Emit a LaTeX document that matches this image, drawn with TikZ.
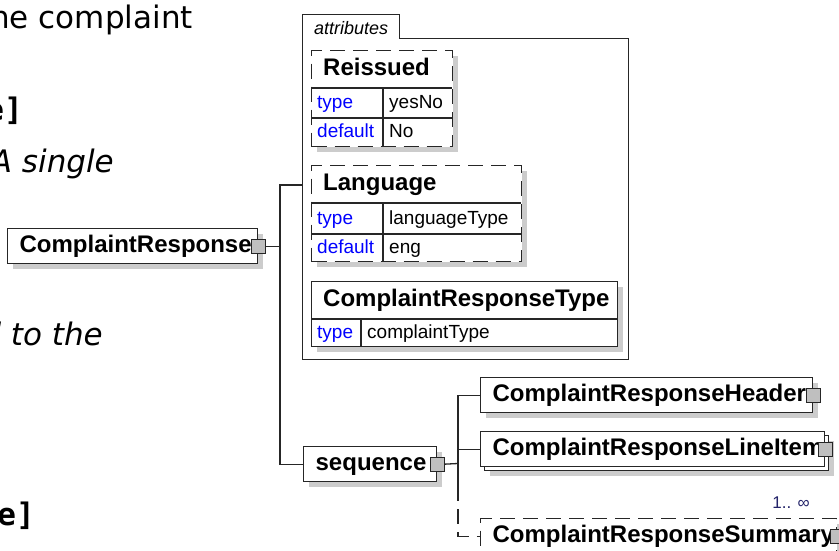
\documentclass[tikz,border=0pt]{standalone}
\usepackage{fontspec}
\setmainfont{Liberation Sans}
\newfontfamily\notefont{DejaVu Sans}
\newfontfamily\notemono{DejaVu Sans Mono}
\usetikzlibrary{shadows}

\definecolor{keyblue}{RGB}{0,0,255}
\definecolor{occurs}{RGB}{35,35,105}
\hyphenpenalty=10000
\exhyphenpenalty=10000

\tikzset{
    elembox/.style={draw=black!85, fill=white, line width=1.3pt, anchor=north west,
        inner xsep=12pt, inner ysep=0pt, minimum height=35pt, text height=17.5pt, text depth=5pt,
        align=left, font=\bfseries\fontsize{24}{28}\selectfont},
    grayshadow/.style={drop shadow={shadow xshift=5pt, shadow yshift=-5pt, fill=black!20, opacity=1}},
    optdash/.style={dash pattern=on 15pt off 8pt},
    plug/.style={draw=black!85, fill=black!25, line width=1.2pt, minimum size=14pt, inner sep=0pt},
    attrbox/.style={draw=black!85, fill=white, line width=1.3pt, anchor=north west, inner sep=0pt, grayshadow},
    attrname/.style={anchor=north west, inner xsep=12pt, inner ysep=0pt, minimum height=38pt,
        text height=17.5pt, text depth=5pt, align=left, font=\bfseries\fontsize{24}{28}\selectfont},
    cellkey/.style={anchor=north west, inner xsep=6pt, inner ysep=0pt, text height=14pt, text depth=3pt,
        align=left, text=keyblue, font=\fontsize{19}{22}\selectfont},
    cellval/.style={cellkey, text=black},
    divider/.style={line width=1.3pt, draw=black!85},
    conn/.style={line width=1.3pt, draw=black!85},
    bgnote/.style={inner sep=0pt, anchor=base east, font=\notefont\fontsize{31}{36}\selectfont},
}

\begin{document}
\begin{tikzpicture}[x=1pt, y=-1pt]
    \fill[white, use as bounding box] (0,0) rectangle (839,550);

    % page text behind the diagram
    \node[bgnote] (notecomplaint) at (193,28) {ne complaint};
    \node[bgnote, font=\notemono\bfseries\fontsize{31}{36}\selectfont] (notebrackettop) at (23,120) {e]};
    \node[bgnote, font=\notefont\itshape\fontsize{31}{36}\selectfont] (notesingle) at (114,172) {A single};
    \node[bgnote, font=\notefont\itshape\fontsize{31}{36}\selectfont] (notetothe) at (103,345) {d to the};
    \node[bgnote, font=\notemono\bfseries\fontsize{31}{36}\selectfont] (notebracketbottom) at (35,525) {e]};

    % root element
    \node[elembox, grayshadow, text width=226pt] (resp) at (7,228) {ComplaintResponse};
    \node[plug] (respplug) at (resp.east) {};

    % attributes group
    \node[anchor=north west, minimum width=326pt, minimum height=321pt, inner sep=0pt] (attrs) at (302,38) {};
    \coordinate (tabcorner) at (399,14);
    \draw[conn, line width=1pt] (attrs.south west) |- (tabcorner) |- (attrs.north east) -- (attrs.south east) -- cycle;
    \node[anchor=base west, inner sep=0pt, font=\itshape\fontsize{18}{22}\selectfont] (attrlabel) at (314,34) {attributes};

    \node[attrbox, optdash, minimum width=141pt, minimum height=96pt] (reissued) at (311,50) {};
    \node[attrname, text width=117pt] (reissuedname) at (311,50) {Reissued};
    \node[cellkey, text width=60pt, minimum height=30pt] (reissuedtype) at (311,88) {type};
    \node[cellval, text width=57pt, minimum height=30pt] (reissuedtypeval) at (383,88) {yesNo};
    \node[cellkey, text width=60pt, minimum height=28pt] (reissueddefault) at (311,118) {default};
    \node[cellval, text width=57pt, minimum height=28pt] (reissueddefaultval) at (383,118) {No};
    \draw[divider] (reissuedtype.north west) -- (reissuedtypeval.north east);
    \draw[divider] (reissueddefault.north west) -- (reissueddefaultval.north east);
    \draw[divider] (reissuedtypeval.north west) -- (reissueddefaultval.south west);

    \node[attrbox, optdash, minimum width=210pt, minimum height=96pt] (lang) at (311,165) {};
    \node[attrname, text width=186pt] (langname) at (311,165) {Language};
    \node[cellkey, text width=60pt, minimum height=31pt] (langtype) at (311,203) {type};
    \node[cellval, text width=126pt, minimum height=31pt] (langtypeval) at (383,203) {languageType};
    \node[cellkey, text width=60pt, minimum height=27pt] (langdefault) at (311,234) {default};
    \node[cellval, text width=126pt, minimum height=27pt] (langdefaultval) at (383,234) {eng};
    \draw[divider] (langtype.north west) -- (langtypeval.north east);
    \draw[divider] (langdefault.north west) -- (langdefaultval.north east);
    \draw[divider] (langtypeval.north west) -- (langdefaultval.south west);

    \node[attrbox, minimum width=306pt, minimum height=65pt] (resptype) at (311,281) {};
    \node[attrname, text width=282pt] (resptypename) at (311,281) {ComplaintResponseType};
    \node[cellkey, text width=38pt, minimum height=27pt] (resptypetype) at (311,319) {type};
    \node[cellval, text width=244pt, minimum height=27pt] (resptypetypeval) at (361,319) {complaintType};
    \draw[divider] (resptypetype.north west) -- (resptypetypeval.north east);
    \draw[divider] (resptypetypeval.north west) -- (resptypetypeval.south west);

    % sequence and its children
    \node[elembox, grayshadow, text width=109pt] (seq) at (303,446) {sequence};
    \node[plug] (seqplug) at (seq.east) {};

    \node[elembox, grayshadow, text width=308pt] (head) at (480,377) {ComplaintResponseHeader};
    \node[plug] (headplug) at (head.east) {};
    \node[elembox, grayshadow, text width=320pt] (lineback) at (484,435) {};
    \node[elembox, text width=320pt] (line) at (480,431) {ComplaintResponseLineItem};
    \node[plug] (lineplug) at (line.east) {};
    \node[anchor=east, inner sep=0pt, text=occurs, font=\fontsize{17}{20}\selectfont] (lineocc) at (810,503) {1.. ∞};
    \node[elembox, grayshadow, optdash, text width=332pt] (summ) at (480,518) {ComplaintResponseSummary};
    \node[plug] (summplug) at (summ.east) {};

    % connectors
    \coordinate (trunk) at (280,185);
    \coordinate (fork) at (458,463.5);
    \coordinate (optstart) at (458,486);
    \draw[conn] (respplug.east) -- (respplug.east -| trunk);
    \draw[conn] (attrs.west |- trunk) -- (trunk) |- (seq.west);
    \draw[conn] (seqplug.east) -- (fork);
    \draw[conn] (head.west) -| (optstart);
    \draw[conn] (line.west) -- (line.west -| fork);
    \draw[conn, optdash] (optstart) |- (summ.west);
\end{tikzpicture}
\end{document}
